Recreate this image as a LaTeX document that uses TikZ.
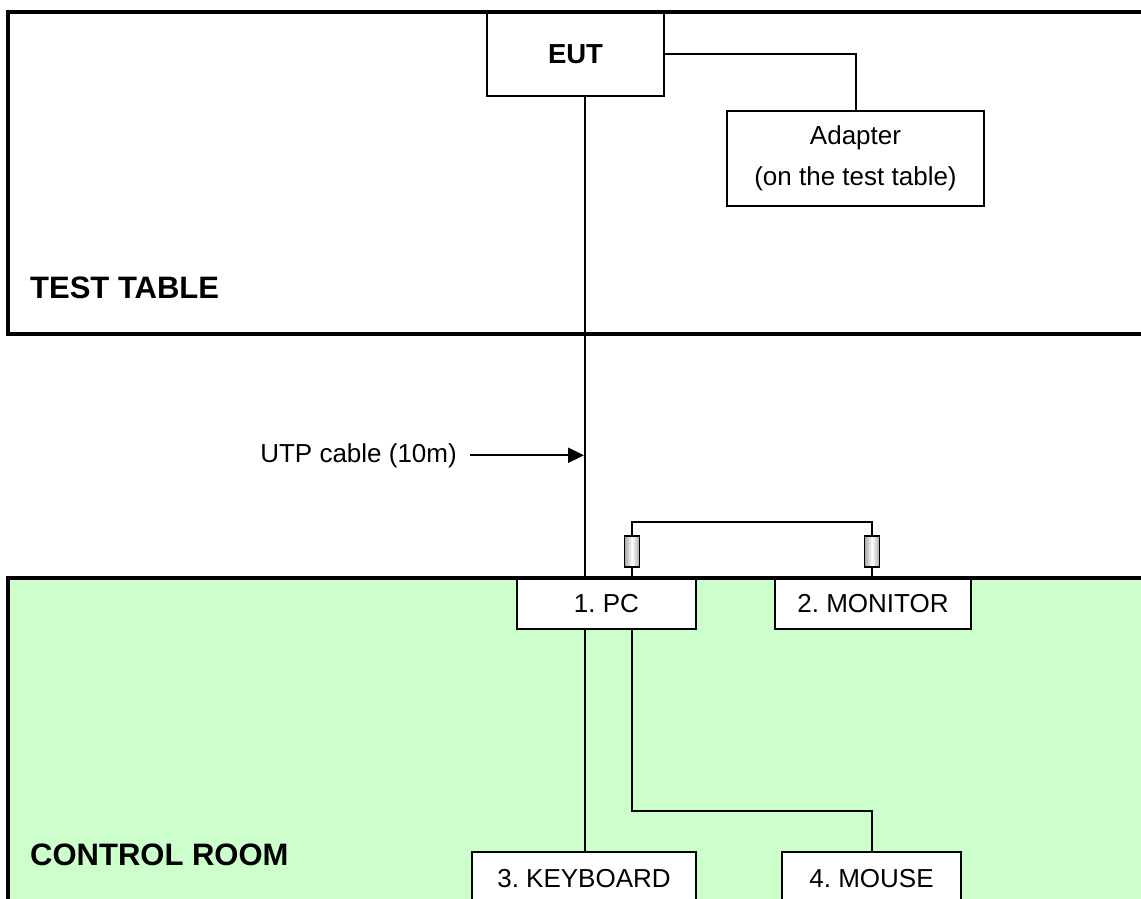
\documentclass[tikz,border=0pt]{standalone}
\usepackage{fontspec}
\setmainfont{Liberation Sans}
\usetikzlibrary{arrows.meta}
\definecolor{roomgreen}{RGB}{204,255,204}
\frenchspacing
\begin{document}
\begin{tikzpicture}[x=1pt,y=-1pt,
  box/.style={draw, line width=2pt, fill=white, inner sep=0pt, align=center,
              font=\fontsize{26}{41}\selectfont},
  wire/.style={line width=2pt},
  frame/.style={line width=4pt},
  core/.style={draw, line width=1.5pt, left color=gray!70, right color=gray!70,
               middle color=white, minimum width=15pt, minimum height=31pt, inner sep=0pt},
  title/.style={font=\fontsize{31}{37}\selectfont\bfseries, anchor=base west, inner sep=0pt},
  lbl/.style={font=\fontsize{26}{31}\selectfont}]
\useasboundingbox (0,0) rectangle (1141,899);
\clip (0,0) rectangle (1141,899);
% region fills
\fill[white] (7.5,12) rectangle (1150,334);
\fill[roomgreen] (7.5,578) rectangle (1150,920);
% coordinates
\coordinate (u) at (585,0);
\coordinate (topbend) at (0,522);
\coordinate (mbend) at (0,811);
% nodes
\node[box, font=\fontsize{27.5}{31}\selectfont\bfseries, minimum width=177pt, minimum height=84pt] (EUT) at (575.5,54) {EUT};
\node[box, minimum width=257pt, minimum height=95pt] (AD) at (855.5,158) {Adapter\\(on the test table)};
\node[box, minimum width=179pt, minimum height=50pt] (PC) at (606.5,604) {1. PC};
\node[box, minimum width=196pt, minimum height=50pt] (MON) at (873,604) {2. MONITOR};
\node[box, minimum width=224pt, minimum height=54pt] (KB) at (584,879) {3. KEYBOARD};
\node[box, minimum width=179pt, minimum height=54pt] (MS) at (871.5,879) {4. MOUSE};
\node[core] (C1) at (632,551.5) {};
\node[core] (C2) at (872,551.5) {};
\node[title] (TT) at (30,298) {TEST TABLE};
\node[title] (CR) at (30,865) {CONTROL ROOM};
\node[lbl, anchor=base east, inner sep=0pt, inner xsep=13pt] (UTP) at (470,462) {UTP cable (10m)};
% wires
\draw[wire] (EUT.east) -| (AD.north);
\draw[wire] (EUT.south -| u) -- (PC.north -| u);
\draw[wire, -{Triangle[length=16pt,width=15pt]}, shorten >=1pt] (UTP.east) -- (UTP.east -| u);
\draw[wire] (PC.north -| C1) -- (C1.south);
\draw[wire] (C1.north) -- (C1.north |- topbend) -| (C2.north);
\draw[wire] (C2.south) -- (MON.north -| C2);
\draw[wire] (PC.south -| u) -- (KB.north -| u);
\draw[wire] (PC.south -| C1) |- (MS.north |- mbend) -- (MS.north);
% region frames
\draw[frame] (7.5,12) rectangle (1150,334);
\draw[frame] (7.5,578) rectangle (1150,920);
\end{tikzpicture}
\end{document}
